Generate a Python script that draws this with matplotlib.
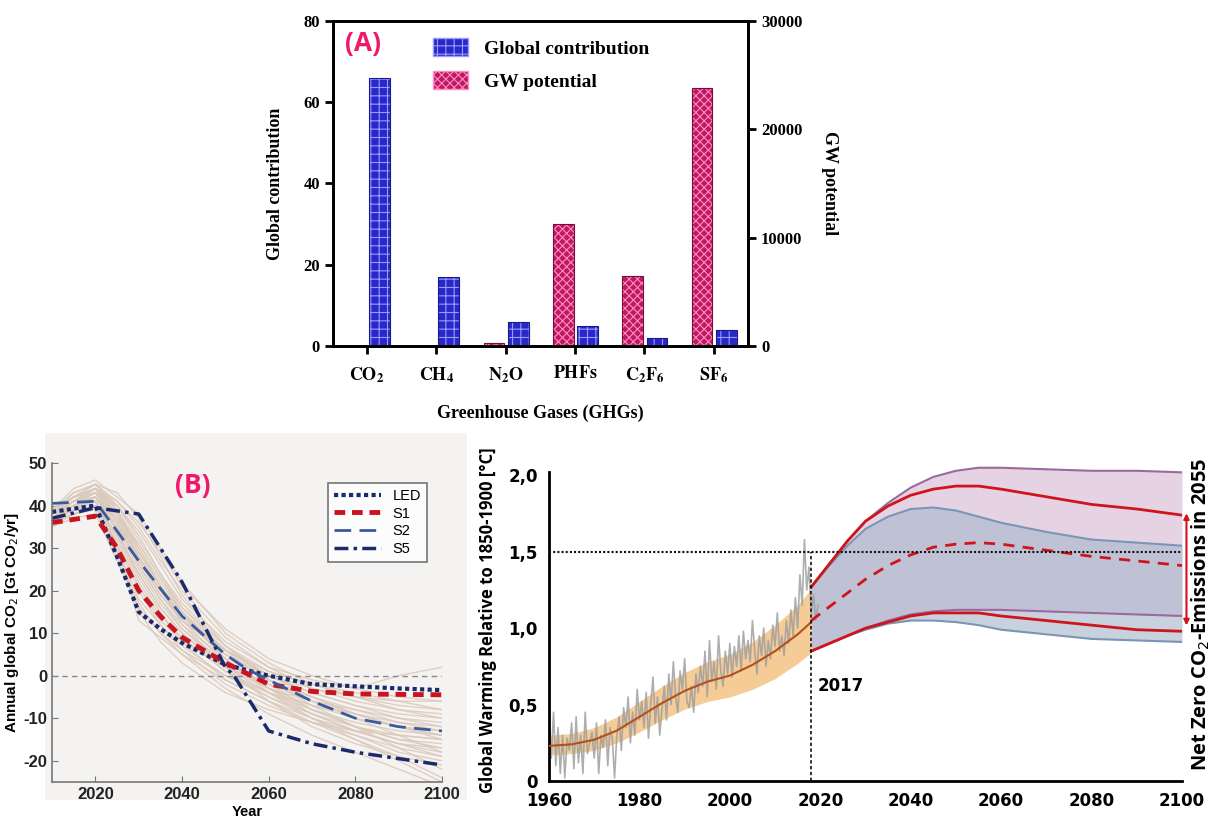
import numpy as np
import matplotlib
matplotlib.use("Agg")
import matplotlib.pyplot as plt
from matplotlib.patches import Patch, Rectangle

# ---------------- data: panel A ----------------
gases = [r'$\mathbf{CO_2}$', r'$\mathbf{CH_4}$', r'$\mathbf{N_2O}$', r'$\mathbf{PHFs}$',
         r'$\mathbf{C_2F_6}$', r'$\mathbf{SF_6}$']
global_contribution = [66, 17, 6, 5, 2, 4]
gw_potential = [1, 25, 298, 11250, 6450, 23850]

# ---------------- data: panel B ----------------
years_b = [2010, 2015, 2020, 2025, 2030, 2035, 2040, 2050, 2060, 2070, 2080, 2090, 2100]
pathways = [
    [38, 42, 44, 38, 28, 20, 14, 6, 0, -4, -7, -9, -10],
    [37, 40, 42, 34, 24, 16, 10, 2, -3, -6, -8, -10, -11],
    [39, 43, 45, 41, 35, 27, 20, 9, 2, -3, -6, -8, -9],
    [36, 39, 41, 30, 18, 12, 7, 0, -5, -9, -12, -14, -15],
    [38, 41, 44, 40, 33, 24, 16, 6, -2, -8, -12, -15, -17],
    [37, 41, 43, 36, 26, 18, 12, 4, -3, -8, -12, -15, -16],
    [39, 44, 46, 42, 38, 30, 22, 10, 3, -2, -5, -7, -8],
    [36, 38, 39, 28, 15, 8, 3, -4, -8, -11, -13, -14, -15],
    [38, 41, 42, 35, 25, 17, 11, 3, -2, -5, -8, -11, -13],
    [37, 40, 43, 38, 30, 22, 15, 5, -1, -6, -10, -14, -18],
    [38, 42, 44, 39, 31, 23, 16, 7, 1, -2, -5, -8, -10],
    [35, 38, 40, 31, 20, 12, 6, -2, -7, -11, -14, -17, -19],
    [37, 40, 41, 33, 22, 14, 9, 1, -4, -8, -11, -13, -14],
    [38, 42, 45, 43, 37, 28, 19, 7, -1, -7, -12, -17, -22],
    [39, 42, 44, 37, 27, 19, 13, 5, 0, -3, -5, -6, -6],
    [36, 40, 42, 34, 23, 15, 8, -1, -6, -10, -13, -16, -19],
    [38, 41, 43, 40, 34, 26, 18, 8, 2, -1, -3, 0, 2],
    [37, 40, 42, 36, 28, 20, 14, 5, -1, -5, -9, -12, -14],
    [38, 43, 45, 39, 29, 21, 15, 6, 0, -4, -7, -10, -12],
    [36, 39, 40, 29, 17, 10, 5, -3, -9, -14, -18, -22, -26],
    [38, 41, 44, 41, 36, 29, 21, 11, 4, 0, -3, -5, -6],
    [37, 40, 41, 32, 21, 13, 8, 2, -2, -6, -9, -12, -13],
    [39, 42, 43, 36, 26, 18, 11, 2, -4, -9, -13, -16, -18],
    [37, 41, 44, 38, 29, 21, 14, 4, -3, -9, -13, -16, -17],
    [38, 40, 42, 35, 27, 19, 13, 6, 1, -2, -4, -6, -8],
    [36, 38, 40, 33, 24, 16, 10, 1, -5, -10, -14, -18, -20],
    [38, 42, 45, 40, 32, 24, 17, 7, 0, -5, -9, -12, -15],
    [37, 39, 42, 37, 31, 23, 15, 4, -4, -10, -15, -19, -24],
    [35, 37, 38, 27, 16, 10, 6, 0, -4, -7, -9, -11, -12],
    [38, 41, 43, 37, 28, 20, 13, 3, -3, -7, -10, -12, -14],
    [36, 40, 41, 31, 13, 9, 5, -1, -6, -11, -15, -20, -25],
    [38, 42, 44, 39, 30, 21, 12, 2, -6, -12, -16, -19, -21],
]
yrs_led = [2010, 2020, 2025, 2030, 2035, 2040, 2050, 2060, 2070, 2080, 2090, 2100]
led = [38.5, 40, 28, 15, 11, 7.7, 2.6, 0, -2, -2.5, -3, -3.4]
yrs_s1 = [2010, 2020, 2025, 2030, 2035, 2040, 2050, 2055, 2060, 2070, 2080, 2090, 2100]
s1 = [36, 37.5, 30, 20, 14, 9, 3, 0.5, -2, -3.7, -4.3, -4.4, -4.5]
yrs_s2 = [2010, 2020, 2025, 2030, 2040, 2050, 2055, 2060, 2070, 2080, 2090, 2100]
s2 = [40.5, 41, 34, 27, 14, 5, 1.5, -1, -6, -10, -12, -13]
yrs_s5 = [2010, 2020, 2030, 2040, 2045, 2050, 2052, 2060, 2070, 2080, 2090, 2100]
s5 = [37, 39.5, 38, 22, 12, 2, 0, -13, -16, -18, -19.5, -21]

# ---------------- data: panel C ----------------
obs_start, obs_step = 1960, 0.5
obs = [0.40, 0.15, 0.45, 0.10, 0.35, 0.05, 0.30, 0.02, 0.28, 0.20,
       0.38, 0.08, 0.42, 0.12, 0.30, 0.05, 0.45, 0.18, 0.25, 0.32,
       0.15, 0.38, 0.05, 0.30, 0.22, 0.40, 0.10, 0.35, 0.28, 0.02,
       0.30, 0.42, 0.20, 0.48, 0.35, 0.55, 0.25, 0.45, 0.30, 0.60,
       0.40, 0.52, 0.35, 0.58, 0.28, 0.50, 0.68, 0.38, 0.55, 0.30,
       0.48, 0.62, 0.40, 0.70, 0.50, 0.78, 0.55, 0.45, 0.72, 0.60,
       0.80, 0.52, 0.48, 0.62, 0.45, 0.70, 0.58, 0.75, 0.62, 0.85,
       0.55, 0.92, 0.65, 0.78, 0.60, 0.95, 0.72, 0.62, 0.85, 0.70,
       0.90, 0.68, 0.88, 0.75, 0.95, 0.72, 0.98, 0.80, 0.92, 0.78,
       1.05, 0.85, 0.70, 0.95, 0.82, 1.00, 0.75, 0.92, 0.80, 1.02,
       0.88, 1.10, 0.85, 0.95, 0.82, 1.05, 0.90, 1.12, 0.95, 1.20,
       1.00, 1.35, 1.15, 1.58, 1.25, 1.40, 1.10, 1.22, 1.05, 1.15]
yrs_hist = [1960, 1965, 1970, 1975, 1980, 1985, 1990, 1995, 2000, 2005, 2010, 2015, 2018]
hist_mid = [0.23, 0.24, 0.27, 0.33, 0.42, 0.51, 0.59, 0.65, 0.69, 0.76, 0.85, 0.96, 1.04]
hist_lo = [0.17, 0.18, 0.20, 0.25, 0.32, 0.40, 0.47, 0.52, 0.55, 0.60, 0.67, 0.77, 0.84]
hist_hi = [0.30, 0.31, 0.35, 0.42, 0.52, 0.62, 0.71, 0.78, 0.83, 0.91, 1.02, 1.15, 1.26]
yrs_f = [2018, 2022, 2026, 2030, 2035, 2040, 2045, 2050, 2055, 2060, 2070, 2080, 2090, 2100]
red_hi = [1.27, 1.42, 1.57, 1.70, 1.80, 1.87, 1.91, 1.93, 1.93, 1.91, 1.86, 1.81, 1.78, 1.74]
purple_hi = [1.27, 1.42, 1.57, 1.70, 1.82, 1.92, 1.99, 2.03, 2.05, 2.05, 2.04, 2.03, 2.03, 2.02]
blue_hi = [1.27, 1.41, 1.54, 1.65, 1.73, 1.78, 1.79, 1.77, 1.73, 1.69, 1.63, 1.58, 1.56, 1.54]
red_mid = [1.05, 1.14, 1.23, 1.32, 1.41, 1.48, 1.53, 1.55, 1.56, 1.55, 1.51, 1.47, 1.44, 1.41]
purple_lo = [0.85, 0.90, 0.95, 1.00, 1.05, 1.09, 1.11, 1.12, 1.12, 1.12, 1.11, 1.10, 1.09, 1.08]
red_lo = [0.85, 0.90, 0.95, 1.00, 1.04, 1.08, 1.10, 1.10, 1.10, 1.08, 1.05, 1.02, 0.99, 0.98]
blue_lo = [0.85, 0.90, 0.95, 0.99, 1.03, 1.05, 1.05, 1.04, 1.02, 0.99, 0.96, 0.93, 0.92, 0.91]

plt.rcParams['hatch.linewidth'] = 0.8
plt.rcParams['axes.unicode_minus'] = False
fig = plt.figure(figsize=(12.13, 8.25), dpi=100)

# ================= panel A =================
serif = 'Liberation Serif'
axA = fig.add_axes([0.2745, 0.5806, 0.342, 0.394])
axA2 = axA.twinx()
x = np.arange(len(gases))
w = 0.30
axA.bar(x + 0.03 + w / 2, global_contribution, w, color='#2828c8', edgecolor='#9a9aff',
        hatch='++', linewidth=0)
axA.bar(x + 0.03 + w / 2, global_contribution, w, fill=False, edgecolor='#1a1a90', linewidth=0.8)
axA2.bar(x - 0.02 - w / 2, gw_potential, w, color='#c01862', edgecolor='#ff8fc0',
         hatch='xxxx', linewidth=0)
axA2.bar(x - 0.02 - w / 2, gw_potential, w, fill=False, edgecolor='#7a0c3c', linewidth=0.8)
axA.set_xlim(-0.49, 5.49)
axA.set_ylim(0, 80)
axA2.set_ylim(0, 30000)
axA.set_yticks([0, 20, 40, 60, 80])
axA2.set_yticks([0, 10000, 20000, 30000])
axA.set_xticks(x)
axA.set_xticklabels(gases)
for a in (axA, axA2):
    for s in a.spines.values():
        s.set_linewidth(2)
    a.tick_params(width=2, length=6, labelsize=12)
    for lab in a.get_xticklabels() + a.get_yticklabels():
        lab.set_fontfamily(serif)
        lab.set_fontweight('bold')
        lab.set_math_fontfamily('stix')
axA.tick_params(axis='x', labelsize=13, pad=8)
axA.set_ylabel('Global contribution', family=serif, weight='bold', fontsize=13, labelpad=14)
axA2.set_ylabel('GW potential', family=serif, weight='bold', fontsize=13, rotation=270, labelpad=26)
axA.set_xlabel('Greenhouse Gases (GHGs)', family=serif, weight='bold', fontsize=13, labelpad=14)
handles = [Patch(facecolor='#2828c8', edgecolor='#9a9aff', hatch='++', label='Global contribution'),
           Patch(facecolor='#c01862', edgecolor='#ff8fc0', hatch='xxxx', label='GW potential')]
axA.legend(handles=handles, loc='upper left', bbox_to_anchor=(0.2, 1.0), frameon=False,
           prop={'family': serif, 'weight': 'bold', 'size': 14}, handlelength=1.8,
           handleheight=1.0, labelspacing=0.7)
axA.text(0.03, 0.93, '(A)', transform=axA.transAxes, color='#f0186a', fontsize=19,
         fontweight='bold', family='Open Sans', va='center')

# ================= panel B =================
fig.patches.append(Rectangle((0.037, 0.03), 0.348, 0.445, transform=fig.transFigure,
                             facecolor='#f5f3f1', edgecolor='none', zorder=-1))
axB = fig.add_axes([0.0429, 0.0521, 0.3215, 0.3867])
axB.set_facecolor('#f5f3f1')
for p in pathways:
    axB.plot(years_b, p, color='#dbc9bb', lw=1, alpha=0.85)
axB.axhline(0, color='#888888', lw=1, ls=(0, (4, 3)))
axB.plot(yrs_led, led, color='#1a2a6c', lw=3, ls=(0, (1, 0.8)), label='LED')
axB.plot(yrs_s1, s1, color='#c8141e', lw=3.5, ls=(0, (2.2, 1.4)), label='S1')
axB.plot(yrs_s2, s2, color='#3a5aa0', lw=2, ls=(0, (6, 3)), label='S2')
axB.plot(yrs_s5, s5, color='#1a2a6c', lw=2.5, ls=(0, (4, 1.5, 1, 1.5)), label='S5')
axB.set_xlim(2010, 2100)
axB.set_ylim(-25, 50)
axB.set_xticks([2020, 2040, 2060, 2080, 2100])
axB.set_yticks([-20, -10, 0, 10, 20, 30, 40, 50])
for s in ('top', 'right'):
    axB.spines[s].set_visible(False)
for s in ('left', 'bottom'):
    axB.spines[s].set_color('#777777')
    axB.spines[s].set_linewidth(1.2)
axB.tick_params(direction='in', length=4, color='#777777', labelsize=12, labelcolor='#222222')
for lab in axB.get_xticklabels() + axB.get_yticklabels():
    lab.set_fontweight('bold')
    lab.set_fontfamily('Liberation Sans')
axB.set_xlabel('Year', fontsize=10.5, fontweight='bold', family='Liberation Sans', labelpad=2)
axB.set_ylabel('Annual global CO$_2$ [Gt CO$_2$/yr]', fontsize=11, fontweight='bold',
               family='Liberation Sans', labelpad=2)
legB = axB.legend(loc='upper right', bbox_to_anchor=(0.98, 0.96), fancybox=False,
                  edgecolor='#555555', prop={'family': 'Liberation Sans', 'size': 10.5},
                  handlelength=3.2, labelspacing=0.25, borderpad=0.4)
legB.get_frame().set_linewidth(1.2)
axB.text(0.36, 0.93, '(B)', transform=axB.transAxes, color='#f0186a', fontsize=19,
         fontweight='bold', family='Open Sans', va='center', ha='center')

# ================= panel C =================
narrow = ['Liberation Sans Narrow', 'DejaVu Sans']
axC = fig.add_axes([0.4526, 0.0533, 0.5218, 0.389])
obs_years = obs_start + obs_step * np.arange(len(obs))
axC.fill_between(yrs_hist, hist_lo, hist_hi, color='#f3c07c', alpha=0.8, lw=0, zorder=1)
axC.plot(obs_years, obs, color='#a0a0a0', lw=1.2, alpha=0.85, zorder=2)
axC.plot(yrs_hist, hist_mid, color='#b4501a', lw=1.5, zorder=3)
axC.fill_between(yrs_f, purple_lo, purple_hi, color='#d8bcd5', alpha=0.65, lw=0, zorder=1)
axC.fill_between(yrs_f, blue_lo, blue_hi, color='#a9bacd', alpha=0.65, lw=0, zorder=1)
axC.plot(yrs_f, purple_hi, color='#9a6a9e', lw=1.5, zorder=3)
axC.plot(yrs_f, purple_lo, color='#9a6a9e', lw=1.5, zorder=3)
axC.plot(yrs_f, blue_hi, color='#7a96b4', lw=1.5, zorder=3)
axC.plot(yrs_f, blue_lo, color='#7a96b4', lw=1.5, zorder=3)
axC.plot(yrs_f, red_hi, color='#d0141c', lw=2, zorder=4)
axC.plot(yrs_f, red_lo, color='#d0141c', lw=2, zorder=4)
axC.plot(yrs_f, red_mid, color='#d0141c', lw=2, ls=(0, (4, 3)), zorder=4)
axC.plot([1960, 2100], [1.5, 1.5], color='#111111', lw=1.5, ls=(0, (1, 1)), zorder=5)
axC.plot([2018, 2018], [0, 1.5], color='#111111', lw=1.2, ls=(0, (2, 1.5)), zorder=5)
axC.text(2019.5, 0.62, '2017', fontsize=12, fontweight='bold', family=narrow, va='center')
axC.annotate('', xy=(2101, 1.77), xytext=(2101, 1.0),
             arrowprops=dict(arrowstyle='<|-|>', color='#d0141c', lw=1.5, mutation_scale=8),
             annotation_clip=False)
axC.text(1.03, 0.52, 'Net Zero CO$_2$-Emissions in 2055', transform=axC.transAxes,
         rotation=90, ha='center', va='center', fontsize=14.5, fontweight='bold', family='Open Sans')
axC.set_xlim(1960, 2100)
axC.set_ylim(0, 2.1)
axC.set_xticks([1960, 1980, 2000, 2020, 2040, 2060, 2080, 2100])
axC.set_yticks([0, 0.5, 1.0, 1.5, 2.0])
axC.set_yticklabels(['0', '0,5', '1,0', '1,5', '2,0'])
for s in ('top', 'right'):
    axC.spines[s].set_visible(False)
axC.spines['left'].set_bounds(0, 2.02)
for s in ('left', 'bottom'):
    axC.spines[s].set_linewidth(2)
axC.tick_params(length=0, labelsize=12, pad=8)
for lab in axC.get_xticklabels() + axC.get_yticklabels():
    lab.set_fontweight('bold')
    lab.set_fontfamily(narrow)
axC.set_ylabel('Global Warming Relative to 1850-1900 [°C]', fontsize=12, fontweight='bold',
               family='Open Sans', labelpad=8)

fig.savefig('out.png', dpi=100)
